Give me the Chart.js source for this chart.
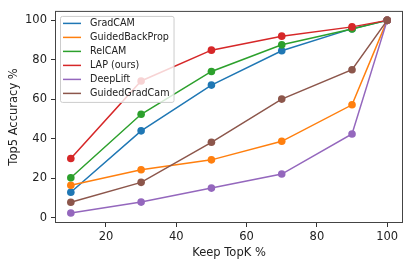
<!DOCTYPE html>
<html>
<head>
<meta charset="utf-8">
<script src="https://cdn.jsdelivr.net/npm/chart.js@4/dist/chart.umd.min.js"></script>
<style>
  html, body { margin: 0; padding: 0; background: #fff; }
  #wrap { width: 411px; height: 268px; position: relative; }
</style>
</head>
<body>
<div id="wrap"><canvas id="chart" width="411" height="268"></canvas></div>
<script>
// data
const keepTopK = [10, 30, 50, 70, 90, 100];
const gradCam = [12.9, 44, 67.2, 84.6, 95.8, 100];
const guidedBackProp = [16.4, 24.3, 29.3, 38.7, 57.2, 100];
const relCam = [20.2, 52.4, 74.1, 87.6, 95.6, 100];
const lapOurs = [30, 69.3, 84.9, 92, 96.7, 100];
const deepLift = [2.4, 7.9, 15, 22.1, 42.4, 100];
const guidedGradCam = [7.8, 17.9, 38.2, 60.1, 75, 100];

const seriesNames = ["GradCAM", "GuidedBackProp", "RelCAM", "LAP (ours)", "DeepLift", "GuidedGradCam"];
const seriesValues = [gradCam, guidedBackProp, relCam, lapOurs, deepLift, guidedGradCam];
const colors = ["#1f77b4", "#ff7f0e", "#2ca02c", "#d62728", "#9467bd", "#8c564b"];

const xTicks = [20, 40, 60, 80, 100];
const yTicks = [0, 20, 40, 60, 80, 100];

const FONT = "'DejaVu Sans', sans-serif";

const datasets = seriesNames.map((name, i) => ({
  label: name,
  data: keepTopK.map((k, j) => ({ x: k, y: seriesValues[i][j] })),
  borderColor: colors[i],
  backgroundColor: colors[i],
  borderWidth: 1.5,
  pointRadius: 3.8,
  pointBorderWidth: 0,
  pointHoverRadius: 3.8,
  tension: 0,
  // matplotlib draws later lines on top
  order: seriesNames.length - i,
}));

// box around the axes, like matplotlib spines
const framePlugin = {
  id: "frame",
  afterDraw(chart) {
    const { ctx, chartArea: a } = chart;
    ctx.save();
    ctx.strokeStyle = "#444";
    ctx.lineWidth = 1;
    ctx.strokeRect(a.left + 0.5, a.top + 0.5, a.right - a.left - 1, a.bottom - a.top - 1);
    ctx.restore();
  },
};

// legend inside the upper left corner
const legendPlugin = {
  id: "innerLegend",
  afterDraw(chart) {
    const { ctx, chartArea: a } = chart;
    const x0 = a.left + 5, y0 = a.top + 5;
    const rowH = 14;
    ctx.save();
    ctx.font = "9.6px " + FONT;
    let maxW = 0;
    seriesNames.forEach((n) => { maxW = Math.max(maxW, ctx.measureText(n).width); });
    const w = 30 + maxW + 4, h = seriesNames.length * rowH + 2;
    ctx.fillStyle = "rgba(255,255,255,0.8)";
    ctx.strokeStyle = "#ccc";
    ctx.lineWidth = 1;
    ctx.beginPath();
    ctx.roundRect(x0 + 0.5, y0 + 0.5, w, h, 2);
    ctx.fill();
    ctx.stroke();
    ctx.textBaseline = "middle";
    seriesNames.forEach((n, i) => {
      const y = y0 + 7.5 + i * rowH;
      ctx.strokeStyle = colors[i];
      ctx.lineWidth = 1.5;
      ctx.beginPath();
      ctx.moveTo(x0 + 3, y);
      ctx.lineTo(x0 + 21, y);
      ctx.stroke();
      ctx.fillStyle = "#222";
      ctx.fillText(n, x0 + 30, y);
    });
    ctx.restore();
  },
};

new Chart(document.getElementById("chart"), {
  type: "line",
  data: { datasets },
  options: {
    responsive: false,
    animation: false,
    layout: { padding: { top: 8, right: 8, left: 0, bottom: 0 } },
    plugins: { legend: { display: false }, tooltip: { enabled: false } },
    scales: {
      x: {
        type: "linear",
        min: 5.5,
        max: 104.5,
        afterBuildTicks(scale) { scale.ticks = xTicks.map((v) => ({ value: v })); },
        afterFit(scale) { scale.height = 45; },
        grid: { display: true, drawOnChartArea: false, drawTicks: true, tickLength: 4, color: "#333" },
        border: { display: false },
        ticks: { color: "#222", font: { family: FONT, size: 11.5 }, padding: 3, maxRotation: 0 },
        title: { display: true, text: "Keep TopK %", color: "#222", font: { family: FONT, size: 11.5 }, padding: { top: 0, bottom: 8 } },
      },
      y: {
        type: "linear",
        min: -2.7,
        max: 104.8,
        afterBuildTicks(scale) { scale.ticks = yTicks.map((v) => ({ value: v })); },
        afterFit(scale) { scale.width = 55; },
        grid: { display: true, drawOnChartArea: false, drawTicks: true, tickLength: 4, color: "#333" },
        border: { display: false },
        ticks: { color: "#222", font: { family: FONT, size: 11.5 }, padding: 4 },
        title: { display: true, text: "Top5 Accuracy %", color: "#222", font: { family: FONT, size: 11.5 }, padding: { top: 7, bottom: 0 } },
      },
    },
  },
  plugins: [framePlugin, legendPlugin],
});
</script>
</body>
</html>
